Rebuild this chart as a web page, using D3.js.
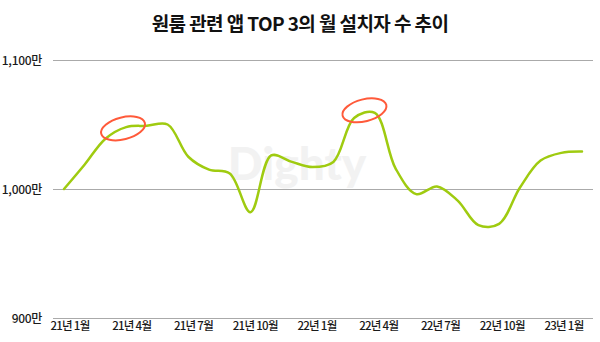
<!DOCTYPE html>
<html><head><meta charset="utf-8">
<script src="https://cdn.jsdelivr.net/npm/d3@7"></script>
<style>
html,body{margin:0;padding:0;background:#fff;}
svg{display:block;font-family:"Noto Sans CJK KR","Noto Sans",sans-serif;}
</style></head>
<body><svg id="c" width="600" height="342"></svg>
<script>
const title = "원룸 관련 앱 TOP 3의 월 설치자 수 추이";
const months = ["21-01","21-02","21-03","21-04","21-05","21-06","21-07","21-08","21-09","21-10","21-11","21-12",
  "22-01","22-02","22-03","22-04","22-05","22-06","22-07","22-08","22-09","22-10","22-11","22-12","23-01","23-02"];
const installs = [1000,1019,1039,1048,1049,1050,1025,1015,1012,982,1026,1021,
  1017,1021,1055,1059,1016,996,1002,991,972,973,1001,1022,1028,1029];
const xTickLabels = ["21년 1월","21년 4월","21년 7월","21년 10월","22년 1월","22년 4월","22년 7월","22년 10월","23년 1월"];
const yTicks = [900,1000,1100];
const yTickLabels = ["900만","1,000만","1,100만"];
const highlights = [{m:2.85, v:1047}, {m:14.5, v:1061}];

const svg = d3.select("#c");
const x = d3.scaleLinear().domain([0, months.length-1]).range([64, 582]);
const xl = d3.scalePoint().domain(xTickLabels).range([70, 564]);
const y = d3.scaleLinear().domain([900, 1100]).range([318, 60]);

svg.append("text").attr("x", 300).attr("y", 31).attr("text-anchor","middle")
  .attr("font-size", 19).attr("font-weight", 700).attr("letter-spacing", -0.6)
  .attr("fill", "#111").text(title);

// gridlines
svg.append("g").selectAll("line").data(yTicks).join("line")
  .attr("x1", 53).attr("x2", 593).attr("y1", d=>y(d)+0.5).attr("y2", d=>y(d)+0.5)
  .attr("stroke", "#aaa").attr("stroke-width", 1);
svg.append("g").selectAll("text").data(yTicks).join("text")
  .attr("x", 42).attr("y", d=>y(d)+4.5).attr("text-anchor","end")
  .attr("font-size", 12).attr("font-weight", 500).attr("letter-spacing", -0.3).attr("fill","#1a1a1a")
  .text((d,i)=>yTickLabels[i]);

svg.append("g").selectAll("text").data(xTickLabels).join("text")
  .attr("x", d=>xl(d)).attr("y", 330).attr("text-anchor","middle")
  .attr("font-size", 11.5).attr("font-weight", 500).attr("letter-spacing", -0.7).attr("fill","#1a1a1a")
  .text(d=>d);

// watermark
svg.append("text").attr("x", 297).attr("y", 180).attr("text-anchor","middle")
  .attr("font-size", 46).attr("font-weight", 900).attr("font-family","Lato, sans-serif")
  .attr("fill", "#f2f2f2").text("Dighty");

const line = d3.line().x((d,i)=>x(i)).y(d=>y(d)).curve(d3.curveCatmullRom.alpha(0.5));
svg.append("path").datum(installs).attr("d", line)
  .attr("fill","none").attr("stroke","#9fcb10").attr("stroke-width",2.5)
  .attr("stroke-linecap","round");

svg.append("g").selectAll("ellipse").data(highlights).join("ellipse")
  .attr("transform", d=>`translate(${x(d.m)},${y(d.v)}) rotate(-14)`)
  .attr("rx", 22.5).attr("ry", 11)
  .attr("fill","none").attr("stroke","#ff5a3a").attr("stroke-width",2);
</script></body></html>
